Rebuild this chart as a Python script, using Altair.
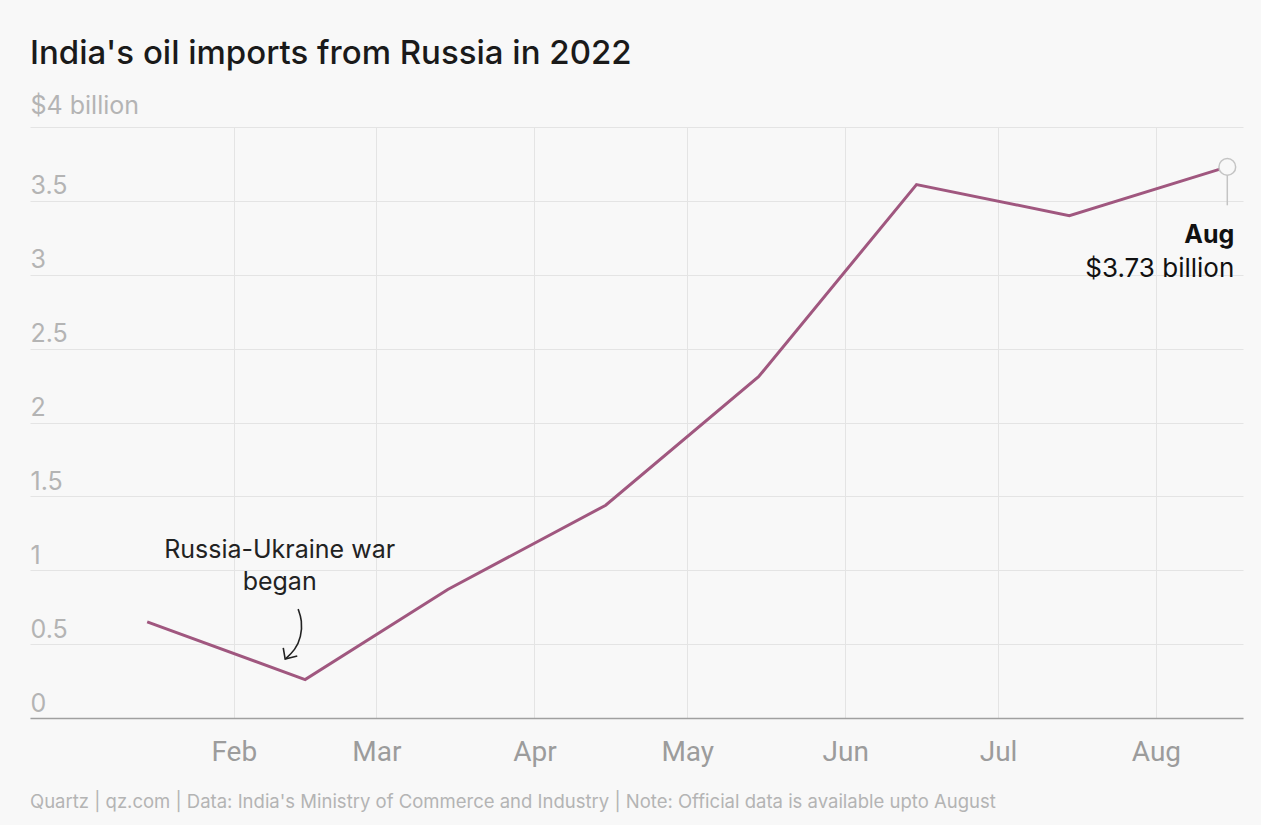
import altair as alt
import pandas as pd

# ---- data ----
months = ["2022-01-15", "2022-02-15", "2022-03-15", "2022-04-15",
          "2022-05-15", "2022-06-15", "2022-07-15", "2022-08-15"]
imports_bn = [0.65, 0.26, 0.87, 1.44, 2.31, 3.61, 3.40, 3.73]

y_ticks = [0, 0.5, 1, 1.5, 2, 2.5, 3, 3.5, 4]
x_ticks = ["2022-02-01", "2022-03-01", "2022-04-01", "2022-05-01",
           "2022-06-01", "2022-07-01", "2022-08-01"]
x_domain = ["2021-12-23", "2022-08-18T02:00"]

note_lines = ["Russia-Ukraine war", "began"]
note_dates = ["2022-02-10", "2022-02-10"]
note_vals = [1.14, 0.92]

arrow_dates = ["2022-02-13T15:00", "2022-02-14T10:00", "2022-02-14T05:30",
               "2022-02-13T01:00", "2022-02-11T02:00"]
arrow_vals = [0.737, 0.663, 0.548, 0.460, 0.399]
head_dates = ["2022-02-10T17:00", "2022-02-11T02:00", "2022-02-13T11:00"]
head_vals = [0.474, 0.399, 0.419]

end_label_top = "Aug"
end_label_bottom = "$3.73 billion"
end_label_vals = [3.27, 3.04]
stem_vals = [3.73, 3.47]

title_text = "India's oil imports from Russia in 2022"
footer_text = ("Quartz | qz.com | Data: India's Ministry of Commerce and Industry"
               " | Note: Official data is available upto August")

FONT = "Inter"
AXFONT = "Roboto"
W, H = 1213, 591
BG = "#f8f8f8"
LINE = "#a0577f"

df = pd.DataFrame({"month": months, "value": imports_bn})
notes = pd.DataFrame({"date": note_dates, "value": note_vals, "text": note_lines})
arrow = pd.DataFrame({"date": arrow_dates, "value": arrow_vals,
                      "i": list(range(len(arrow_dates)))})
head = pd.DataFrame({"date": head_dates, "value": head_vals,
                     "i": list(range(len(head_dates)))})
last = df.iloc[[-1]].copy()
stem = pd.DataFrame({"month": [months[-1], months[-1]], "value": stem_vals})
end_top = pd.DataFrame({"month": [months[-1]], "value": [end_label_vals[0]],
                        "text": [end_label_top]})
end_bot = pd.DataFrame({"month": [months[-1]], "value": [end_label_vals[1]],
                        "text": [end_label_bottom]})

x_scale = alt.Scale(type="utc", domain=x_domain)
y_scale = alt.Scale(domain=[0, 4], nice=False)

x_axis = alt.Axis(values=x_ticks, title=None,
                  labelExpr="utcFormat(datum.value, '%b')",
                  grid=True, gridColor="#e4e4e4", gridWidth=1,
                  ticks=False, domain=True, domainColor="#a0a0a0", domainWidth=1.5,
                  labelFont=AXFONT, labelFontSize=28, labelColor="#9c9c9c",
                  labelPadding=20, labelFlush=False)
y_axis = alt.Axis(values=y_ticks, title=None, grid=True, gridColor="#e4e4e4",
                  gridWidth=1, ticks=False, domain=False,
                  labelAlign="left", labelBaseline="alphabetic", labelPadding=0,
                  labelOffset={"condition": {"test": "datum.value == 4", "value": -14},
                               "value": -7},
                  labelFont=FONT, labelFontSize=25,
                  labelColor="#b4b4b4",
                  labelExpr="datum.value == 4 ? '$4 billion' : format(datum.value, '~g')")

X = lambda f: alt.X(f, scale=x_scale)
Y = alt.Y("value:Q", scale=y_scale)

base_line = alt.Chart(df).mark_line(color=LINE, strokeWidth=3).encode(
    x=alt.X("month:T", scale=x_scale, axis=x_axis),
    y=alt.Y("value:Q", scale=y_scale, axis=y_axis),
)

stem_rule = alt.Chart(stem).mark_line(color="#c4c4c4", strokeWidth=1.5).encode(
    x=X("month:T"), y=Y)

end_pt = alt.Chart(last).mark_point(shape="circle", size=280, filled=True,
                                    fill=BG, stroke="#c4c4c4", strokeWidth=1.5,
                                    opacity=1).encode(x=X("month:T"), y=Y)

end_text_top = alt.Chart(end_top).mark_text(
    align="right", baseline="middle", dx=7, font=FONT, fontSize=25,
    fontWeight="bold", color="#111111").encode(x=X("month:T"), y=Y, text="text:N")
end_text_bot = alt.Chart(end_bot).mark_text(
    align="right", baseline="middle", dx=7, font=FONT, fontSize=26,
    color="#111111").encode(x=X("month:T"), y=Y, text="text:N")

note_text = alt.Chart(notes).mark_text(align="center", baseline="middle",
                                       font=FONT, fontSize=25, color="#222222").encode(
    x=X("date:T"), y=Y, text="text:N")

arrow_line = alt.Chart(arrow).mark_line(color="#222222", strokeWidth=1.6,
                                        interpolate="basis").encode(
    x=X("date:T"), y=Y, order="i:Q")
head_line = alt.Chart(head).mark_line(color="#222222", strokeWidth=1.6).encode(
    x=X("date:T"), y=Y, order="i:Q")

footer = alt.Chart(pd.DataFrame({"t": [footer_text]})).mark_text(
    align="left", baseline="middle", font=FONT, fontSize=18.5, color="#b4b4b4").encode(
    x=alt.value(0), y=alt.value(H + 84), text="t:N")

chart = alt.layer(base_line, stem_rule, end_pt, end_text_top, end_text_bot,
                  note_text, arrow_line, head_line, footer).properties(
    width=W, height=H,
    autosize=alt.AutoSizeParams(type="none"),
    padding={"left": 30, "top": 127, "right": 18, "bottom": 107},
    background=BG,
    title=alt.TitleParams(title_text, anchor="start", frame="group",
                          font=FONT, fontSize=33, fontWeight=500,
                          color="#1a1a1a", offset=22),
).configure_view(stroke=None)

chart.save("out.html", embed_options={"renderer": "svg", "actions": False})
